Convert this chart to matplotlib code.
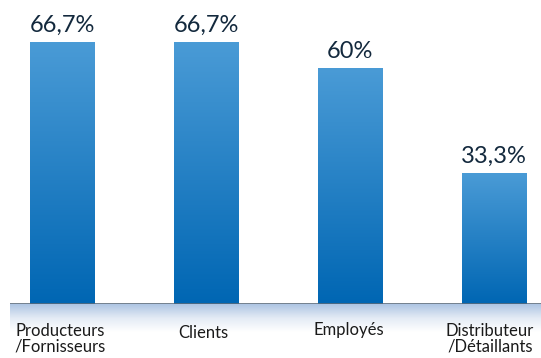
import numpy as np
import matplotlib.pyplot as plt
from matplotlib.colors import LinearSegmentedColormap

categories = ['Producteurs\n/Fornisseurs', 'Clients', 'Employés', 'Distributeur\n/Détaillants']
values = [66.7, 66.7, 60, 33.3]
value_labels = ['66,7%', '66,7%', '60%', '33,3%']

plt.rcParams['font.family'] = ['Lato', 'DejaVu Sans']

fig = plt.figure(figsize=(5.41, 3.58), dpi=100)
ax = fig.add_axes([10/541, 54/358, 531/541, 304/358])

# dégradé des barres
cmap = LinearSegmentedColormap.from_list('bar', ['#0066b3', '#4a9bd6'])
grad = np.linspace(0, 1, 256).reshape(-1, 1)
w = 0.45
for i, v in enumerate(values):
    ax.imshow(grad, extent=[i - w/2, i + w/2, 0, v], origin='lower',
              cmap=cmap, aspect='auto', zorder=2)
    ax.text(i, v + 1.5, value_labels[i], ha='center', va='bottom',
            fontsize=17, color='#13293d')

ax.set_xlim(-0.365, 3.326)
ax.set_ylim(0, 77.4)
ax.axhline(0, color='#5a6a7a', lw=1.2, zorder=3)
for s in ax.spines.values():
    s.set_visible(False)
ax.set_xticks([])
ax.set_yticks([])

# ombre sous la ligne de base
sh = fig.add_axes([10/541, 26/358, 531/541, 28/358])
shade = LinearSegmentedColormap.from_list('sh', ['#ffffff', '#e4ebf5', '#aec5e3'])
sh.imshow(np.linspace(0, 1, 64).reshape(-1, 1), origin='lower', cmap=shade,
          aspect='auto', extent=[0, 1, 0, 1])
sh.axis('off')

xpos = [60, 203, 349, 490]
ypos = [339, 333, 330, 339]
for x, y, c in zip(xpos, ypos, categories):
    fig.text(x/541, 1 - y/358, c, ha='center', va='center', fontsize=12,
             color='#1a1a1a', linespacing=1.0)

fig.savefig('out.png', dpi=100)
